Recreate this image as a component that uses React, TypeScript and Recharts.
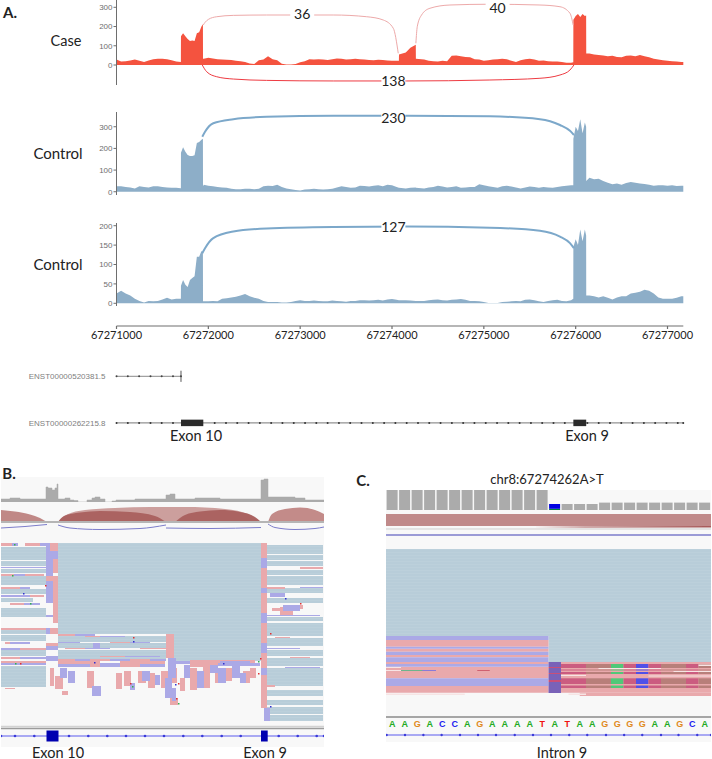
import {
	Area,
	Bar,
	BarChart,
	ComposedChart,
	Line,
	ReferenceArea,
	ReferenceLine,
	XAxis,
	YAxis,
} from "recharts";

// Panel A: genome positions are offsets from this coordinate
const chromStart = 67271000;
const chromEnd = 67277172;
const chromTicks = [67271000, 67272000, 67273000, 67274000, 67275000, 67276000, 67277000];

const binOffsets = [
	0, 50, 100, 150, 200, 250, 300, 350, 400, 450, 500, 550, 600, 650, 701,
	702, 725, 750, 775, 800, 825, 850, 875, 900, 925, 941, 942,
	950, 1000, 1050, 1100, 1150, 1200, 1250, 1300, 1350, 1400,
	1450, 1500, 1550, 1600, 1650, 1700, 1750, 1800, 1850, 1900,
	1950, 2000, 2050, 2100, 2150, 2200, 2250, 2300, 2350, 2400,
	2450, 2500, 2550, 2600, 2650, 2700, 2750, 2800, 2850, 2900,
	2950, 3000, 3050, 3075, 3076, 3150, 3200, 3259, 3260, 3350, 3400,
	3450, 3500, 3550, 3600, 3650, 3700, 3750, 3800, 3850, 3900,
	3950, 4000, 4050, 4100, 4150, 4200, 4250, 4300, 4350, 4400,
	4450, 4500, 4550, 4600, 4650, 4700, 4750, 4800, 4850, 4900,
	4950, 4974,
	4975, 5000, 5025, 5050, 5075, 5100, 5114, 5115,
	5150, 5200, 5250, 5300, 5350, 5400, 5450, 5500, 5550, 5600, 5650, 5700, 5750, 5800, 5850, 5900, 5950, 6000, 6050, 6100, 6150,
	6172,
];

const caseCoverage = [
	28, 18, 20, 24, 28, 22, 15, 24, 30, 32, 33, 30, 25, 18, 16,
	150, 165, 150, 135, 125, 128, 125, 165, 170, 200, 212, 32,
	32, 38, 34, 30, 28, 27, 26, 22, 20, 16,
	8, 5, 25, 28, 45, 30, 25, 6, 2, 2,
	5, 14, 20, 30, 28, 30, 28, 26, 30, 34,
	32, 28, 30, 32, 30, 28, 26, 25, 27, 26,
	24, 22, 22, 22, 55, 65, 90, 105, 32, 28, 22,
	20, 18, 22, 20, 48, 50, 45, 42, 40, 30,
	28, 22, 25, 28, 30, 32, 30, 22, 15, 25,
	30, 32, 28, 22, 24, 20, 18, 18, 15, 12,
	12, 14,
	235, 255, 265, 250, 265, 255, 258, 60,
	60, 55, 52, 50, 45, 48, 42, 40, 48, 50, 45, 52, 45, 40, 32, 28, 25, 22, 20, 18, 15,
	15,
];

const controlACoverage = [
	25, 25, 22, 20, 15, 25, 22, 20, 25, 25, 22, 20, 18, 18, 16,
	180, 205, 185, 170, 165, 165, 168, 225, 230, 240, 245, 25,
	32, 28, 25, 22, 20, 18, 14, 12, 12, 14,
	14, 12, 14, 25, 28, 26, 32, 22, 15, 12,
	8, 6, 10, 12, 14, 12, 10, 12, 14, 20,
	25, 22, 18, 20, 28, 26, 24, 28, 30, 25,
	32, 30, 22, 18, 18, 15, 18, 20, 18, 15, 20,
	22, 28, 24, 20, 22, 25, 18, 20, 22, 22,
	35, 30, 25, 22, 18, 25, 28, 24, 20, 15,
	20, 24, 22, 18, 22, 20, 18, 22, 25, 28,
	30, 30,
	245, 300, 280, 335, 270, 320, 300, 50,
	65, 58, 60, 50, 42, 35, 38, 32, 40, 45, 42, 38, 36, 32, 28, 30, 30, 28, 30, 26, 28,
	28,
];

const controlBCoverage = [
	25, 32, 25, 20, 12, 6, 2, 6, 5, 6, 10, 14, 10, 12, 12,
	45, 60, 48, 42, 60, 65, 70, 120, 120, 135, 130, 5,
	5, 5, 6, 5, 12, 13, 15, 17, 20, 24,
	18, 14, 12, 6, 3, 3, 3, 2, 2, 3,
	6, 8, 6, 6, 7, 6, 5, 5, 7, 6,
	5, 4, 6, 6, 8, 8, 7, 8, 9, 7,
	10, 11, 9, 8, 8, 8, 7, 6, 6, 6, 8,
	9, 10, 8, 7, 9, 10, 11, 9, 6, 6,
	5, 3, 1, 1, 1, 3, 4, 5, 6, 5,
	9, 10, 8, 5, 3, 6, 8, 9, 6, 5,
	8, 12,
	145, 165, 150, 190, 160, 190, 175, 20,
	20, 18, 15, 18, 14, 10, 15, 18, 18, 25, 27, 30, 35, 32, 25, 15, 12, 12, 12, 14, 18,
	18,
];

// junction arcs, [offset, reads-axis value]
const arc36 = [[945, 208], [965, 222], [1000, 237], [1091, 251], [1272, 258], [1635, 260], [2360, 260], [2724, 251], [2905, 234], [3014, 191], [3068, 61]];
const arc40 = [[3260, 113], [3275, 199], [3322, 260], [3413, 295], [3631, 312], [4066, 316], [4611, 312], [4829, 303], [4938, 269], [4973, 208]];
const arc138 = [[934, 0], [982, -35], [1091, -61], [1272, -73], [1635, -80], [2360, -83], [3160, -83], [4066, -78], [4611, -69], [4829, -52], [4938, -26], [4981, 0]];
const arc230 = [[934, 254], [964, 277], [1054, 316], [1272, 335], [1635, 346], [2360, 351], [3160, 351], [4066, 348], [4611, 335], [4829, 308], [4938, 281], [4981, 262]];
const arc127 = [[934, 129], [964, 142], [1054, 168], [1272, 185], [1635, 193], [2360, 197], [3160, 198], [4066, 195], [4611, 187], [4829, 172], [4938, 155], [4981, 142]];

const shortTranscript = [0, 123, 246, 370, 492, 615, 702];
const longTranscript = [
	0, 123, 246, 370, 492, 615, 1069, 1192, 1315, 1438, 1561, 1684, 1807, 1930, 2053, 2176, 2299, 2422, 2545, 2668, 2791,
	2914, 3037, 3160, 3283, 3406, 3529, 3652, 3775, 3898, 4021, 4144, 4267, 4390, 4513, 4636, 4759, 4882, 5128, 5251, 5374,
	5497, 5620, 5743, 5866, 5989, 6112, 6172,
];
const exon10Span = [702, 945];
const exon9Span = [4975, 5115];
const transcriptNames = { 1: "ENST00000262215.8", 2: "ENST00000520381.5" };

// Panel B, IGV overview: [x1, x2, row1, row2]
const overviewCoverage = [
	[1, 3], [10, 4], [20, 3], [30, 3], [40, 3], [46, 15], [48, 14], [52, 12], [55, 14], [57, 18], [58, 3], [65, 4], [70, 2], [74, 1.5], [78, 0], [87, 2], [92, 4], [95, 5], [100, 3], [105, 0],
	[112, 1], [116, 2], [125, 2], [135, 3], [150, 3], [160, 3], [166, 7], [170, 8], [175, 3], [185, 3], [195, 4], [205, 4], [220, 3], [235, 3], [250, 3], [261, 22], [264, 23], [268, 5], [280, 5], [288, 5], [295, 4], [305, 2], [324, 2],
];
const overviewArcs = [
	{ fill: "#BD8280", points: [[1, 12], [15, 10.5], [30, 7.5], [40, 4], [47, 0]] },
	{ fill: "#C99A98", points: [[58, 0], [66, 7], [85, 12], [115, 14], [150, 15], [185, 15], [225, 13], [250, 7], [261, 0]] },
	{ fill: "#A9605E", points: [[58, 0], [64, 6], [80, 9.5], [100, 11], [130, 10], [155, 6], [166, 0]] },
	{ fill: "#A9605E", points: [[175, 0], [185, 7], [200, 10.5], [220, 12], [240, 10], [255, 5], [261, 0]] },
	{ fill: "#C08583", points: [[268, 0], [272, 8], [285, 13], [300, 14.5], [315, 12], [324, 8]] },
];
const overviewBlueArcs = [
	[[1, -6], [25, -4.5], [47, -2.5]],
	[[58, -3], [70, -6], [100, -7.5], [140, -6.5], [166, -3]],
	[[166, -6], [210, -6.5], [261, -5.5]],
	[[268, -2], [275, -5.5], [295, -7.5], [315, -6.5], [324, -5]],
];
const overviewTeal = [
	[58, 261, 0, 91], [174, 261, 91, 118],
	[1, 46, 4, 17], [1, 46, 18, 23], [1, 46, 26, 30], [1, 46, 33, 42], [1, 46, 46, 51], [1, 33, 55, 59], [1, 46, 65, 74], [1, 46, 87, 91], [1, 46, 92, 98], [1, 46, 107, 113], [1, 46, 123, 144],
	[58, 166, 93, 99], [58, 166, 100, 105], [58, 166, 107, 113], [58, 166, 113, 116],
	[267, 323, 2, 11], [267, 323, 12, 17], [267, 323, 18, 23], [267, 323, 27, 32], [267, 323, 33, 42], [267, 323, 45, 50], [267, 323, 55, 60], [267, 323, 74, 78], [267, 323, 80, 93], [267, 323, 95, 103], [267, 323, 107, 113], [267, 323, 115, 123], [267, 323, 125, 143], [267, 323, 147, 153], [267, 323, 157, 162], [267, 323, 164, 171], [267, 323, 172, 178],
];
const overviewPink = [
	[1, 12, 0, 3], [25, 40, 0, 3], [1, 14, 31, 33], [25, 44, 31, 33], [1, 20, 44, 46], [30, 44, 52, 54], [10, 24, 60, 62], [1, 46, 85, 87], [5, 15, 99, 101], [20, 46, 105, 107], [1, 20, 114, 116], [25, 46, 118, 120],
	[50, 58, 0, 8], [53, 58, 16, 30], [46, 58, 33, 38], [53, 58, 38, 55], [53, 58, 55, 80], [50, 58, 85, 91], [46, 58, 100, 103],
	[58, 75, 91, 93], [85, 100, 93, 94], [110, 130, 99, 100], [140, 166, 105, 106], [65, 85, 105, 106], [100, 125, 113, 114],
	[166, 174, 91, 115], [261, 267, 0, 15], [261, 267, 25, 45], [261, 267, 50, 70], [261, 267, 80, 100], [261, 267, 110, 125], [261, 267, 132, 165],
	[267, 275, 142, 144], [280, 293, 64, 73], [267, 285, 44, 46], [300, 323, 24, 26], [275, 290, 94, 95], [290, 310, 114, 115],
	[1, 46, 118, 120], [58, 100, 118, 121], [120, 165, 118, 121], [190, 255, 117, 120],
	[58, 75, 116, 118], [90, 110, 116, 118], [130, 150, 116, 118], [90, 100, 121, 124], [120, 140, 121, 124], [190, 218, 120, 124],
	[50, 54, 125, 143], [55, 63, 133, 146], [62, 68, 148, 152], [87, 94, 128, 145], [116, 122, 130, 146], [124, 131, 128, 143], [138, 146, 128, 140], [148, 155, 130, 145], [161, 170, 128, 145], [172, 177, 125, 140], [180, 185, 135, 148], [190, 197, 125, 147], [203, 210, 122, 145], [215, 221, 125, 140], [225, 232, 125, 138], [243, 250, 128, 140], [250, 256, 125, 135],
	[170, 178, 155, 162], [272, 280, 65, 68], [296, 303, 62, 66], [5, 15, 145, 146],
];
const overviewLavender = [
	[12, 18, 0, 3], [40, 46, 0, 3], [1, 46, 24, 25], [14, 25, 31, 33], [20, 30, 44, 46], [1, 30, 52, 54], [24, 40, 60, 62], [10, 30, 99, 101], [1, 20, 105, 107], [20, 46, 114, 116],
	[46, 50, 0, 8], [46, 58, 8, 16], [46, 53, 16, 24], [46, 53, 24, 33], [46, 53, 38, 55], [46, 53, 55, 60], [46, 53, 72, 74], [46, 50, 85, 91], [46, 58, 103, 107], [46, 58, 113, 118],
	[75, 95, 91, 93], [100, 125, 93, 94], [58, 80, 99, 100], [130, 150, 99, 100], [85, 110, 105, 106], [125, 160, 113, 114], [93, 100, 100, 105],
	[261, 267, 15, 25], [261, 267, 45, 50], [261, 267, 70, 80], [261, 267, 100, 110], [261, 267, 125, 132], [264, 270, 165, 178],
	[300, 323, 44, 45], [267, 320, 72, 73], [283, 300, 62, 68], [270, 285, 50, 54], [267, 300, 105, 106], [285, 320, 124, 125],
	[75, 90, 116, 118], [110, 130, 116, 118], [150, 166, 116, 118], [218, 260, 120, 123],
	[58, 90, 121, 124], [100, 120, 120, 124], [140, 165, 121, 124], [174, 190, 118, 121], [220, 250, 118, 121], [1, 46, 120, 122],
	[60, 67, 125, 135], [68, 75, 128, 140], [92, 101, 143, 153], [130, 135, 140, 147], [142, 150, 128, 138], [155, 160, 132, 142], [165, 172, 135, 155], [172, 176, 145, 158], [184, 190, 122, 135], [197, 204, 128, 145], [210, 218, 122, 130], [218, 226, 125, 140], [232, 240, 118, 135], [240, 246, 130, 140], [168, 176, 115, 135],
];
const overviewMismatches = [
	{ fill: "#E03030", marks: [[45, 42], [178, 140], [176, 155], [130, 140], [260, 115], [270, 90], [300, 60], [133, 94], [20, 120], [258, 130]] },
	{ fill: "#30B050", marks: [[14, 1], [178, 160], [132, 143], [15, 120], [258, 118], [12, 32], [30, 60]] },
	{ fill: "#3030D0", marks: [[23, 50], [94, 119], [133, 98], [223, 120], [270, 163], [175, 141], [285, 55]] },
];
const overviewGeneMarkers = [1, 15, 34.3, 69, 88.3, 107.3, 126, 145, 164, 183.3, 202.3, 221.7, 240.7, 278.7, 297.7, 316.7, 324];

// Panel C, IGV close-up around the variant
const closeUpBases = ["A", "A", "G", "A", "C", "C", "A", "G", "A", "A", "A", "A", "T", "A", "T", "A", "A", "G", "G", "G", "G", "A", "A", "G", "C", "A"];
const closeUpCoverage = [100, 100, 100, 100, 100, 100, 100, 100, 100, 100, 100, 100, 100, 0, 30, 30, 30, 37, 37, 37, 37, 37, 37, 37, 37, 37];
const closeUpAltT = [0, 0, 0, 0, 0, 0, 0, 0, 0, 0, 0, 0, 0, 24, 0, 0, 0, 0, 0, 0, 0, 0, 0, 0, 0, 0];
const closeUpAltG = [0, 0, 0, 0, 0, 0, 0, 0, 0, 0, 0, 0, 0, 6, 0, 0, 0, 0, 0, 0, 0, 0, 0, 0, 0, 0];
const closeUpWedge = [[11.8, 10, 10.1], [16, 9.6, 10.5], [26, 9.5, 11]];
const closeUpTeal = [[0, 26, 0, 87], [13, 26, 87, 113]];
const closeUpPink = [[0, 13, 91, 97.7], [0, 13, 99.7, 102.7], [0, 13, 106, 108.3], [0, 13, 113, 115], [0, 13, 117.7, 129.3], [0, 13, 137, 143.7], [14, 26, 113, 143.7], [15.5, 26, 143.7, 147]];
const closeUpLavender = [[0, 13, 87, 91], [0, 13, 97.7, 99.7], [0, 13, 102.7, 106], [0, 13, 108.3, 113], [0, 13, 115, 117.7], [0, 13, 129.3, 137]];
const closeUpPale = [[0, 6.3, 144.5, 146], [14.6, 16, 144.5, 146], [0, 1.2, 118, 119], [0, 1.2, 121, 122], [25, 26, 115.5, 117], [17, 22, 119, 120], [23, 26, 122, 123], [14, 16, 126, 127], [21, 26, 126.5, 127.5]];
const closeUpRows = [[115, 119], [120.5, 121.5], [123, 125], [129.3, 135], [136.5, 139]];
const closeUpColumns = [
	{ fill: "#CB5C80", span: [14, 16] },
	{ fill: "#B87F7A", span: [16, 18] },
	{ fill: "#50C878", span: [18, 19] },
	{ fill: "#CB5C80", span: [19, 20] },
	{ fill: "#5050E8", span: [20, 21] },
	{ fill: "#CB5C80", span: [21, 22] },
	{ fill: "#B87F7A", span: [22, 24] },
	{ fill: "#CB5C80", span: [24, 25] },
	{ fill: "#B87F7A", span: [25, 26] },
];
const closeUpVariant = [[13, 14, 113, 118], [13, 14, 119, 124], [13, 14, 125, 131], [13, 14, 133, 144]];
const closeUpVariantStripes = [[13, 14, 118, 119], [13, 14, 124, 125], [13, 14, 131, 133]];
const closeUpSmallMarks = [
	{ fill: "#6EB48C", mark: [1.2, 3, 121, 122] },
	{ fill: "#8A7AD8", mark: [2.9, 4, 121, 122] },
	{ fill: "#D06070", mark: [7.3, 8.3, 121, 122] },
];
const closeUpGeneMarkers = [0.05, 1.52, 2.99, 4.45, 5.92, 7.36, 8.8, 10.3, 11.76, 13.2, 14.66, 16.1, 17.6, 19.05, 20.5, 22, 23.4, 24.9, 26];

const caseRed = "#F4533F";
const controlBlue = "#8DAEC8";
const arcBlue = "#7CA8CA";
const axisGrey = "#6E6E6E";
const readTeal = "url(#readStripes)";
const readPink = "#E9A9AC";
const readLavender = "#ABA9E6";
const bodyFont = "Lato, sans-serif";
const sansFont = "'Liberation Sans', sans-serif";
const baseColors = { A: "#22AA22", C: "#2020F0", G: "#E08A20", T: "#F01010" };
const labelPad = 16;

const toBinRows = (values: number[]) => binOffsets.map((offset, i) => ({ pos: chromStart + offset, coverage: values[i] }));
const toArcRows = (points: number[][]) => points.map(([offset, value]) => ({ pos: chromStart + offset, value }));
const toTrackRows = (offsets: number[], row: number) => offsets.map((offset) => ({ pos: chromStart + offset, row }));

const JunctionLabel = ({ cx, cy, text }: { cx?: number; cy?: number; text: string }) => (
	<g>
		<rect x={(cx ?? 0) - 12} y={(cy ?? 0) - 7} width={24} height={14} fill="#fff" />
		<text x={cx} y={(cy ?? 0) + 5} textAnchor="middle" fontFamily={bodyFont} fontSize={14} fill="#222">
			{text}
		</text>
	</g>
);

const Caption = ({ x, y, size = 14.5, bold, text }: { x: number; y: number; size?: number; bold?: boolean; text: string }) => (
	<div
		style={{
			position: "absolute",
			left: x,
			top: y,
			transform: "translate(-50%, -50%)",
			fontFamily: bodyFont,
			fontSize: size,
			lineHeight: 1,
			fontWeight: bold ? 700 : 400,
			color: "#222",
			whiteSpace: "nowrap",
		}}
	>
		{text}
	</div>
);

const at = (left: number, top: number): React.CSSProperties => ({ position: "absolute", left, top });

interface CoverageTrackProps {
	top: number;
	height: number;
	domain: number[];
	ticks: number[];
	values: number[];
	color: string;
	arcs: { points: number[][]; stroke: string; width: number }[];
	labels: { offset: number; value: number; text: string }[];
}

const CoverageTrack = ({ top, height, domain, ticks, values, color, arcs, labels }: CoverageTrackProps) => (
	<div style={at(0, top - labelPad)}>
		<ComposedChart width={712} height={height + labelPad * 2} margin={{ top: labelPad, right: 28.7, bottom: labelPad, left: 0 }}>
			<XAxis dataKey="pos" type="number" domain={[chromStart, chromEnd]} hide />
			<YAxis
				type="number"
				width={116.5}
				domain={domain}
				ticks={ticks}
				interval={0}
				tick={{ fontSize: 8, fontFamily: sansFont, fill: axisGrey }}
				tickSize={3}
				tickMargin={1}
				stroke={axisGrey}
				tickLine={{ stroke: axisGrey }}
			/>
			<Area data={toBinRows(values)} dataKey="coverage" type="linear" stroke="none" fill={color} fillOpacity={1} baseValue={0} isAnimationActive={false} />
			{arcs.map((arc, i) => (
				<Line key={i} data={toArcRows(arc.points)} dataKey="value" type="monotone" stroke={arc.stroke} strokeWidth={arc.width} dot={false} isAnimationActive={false} />
			))}
			{labels.map((label) => (
				<Line
					key={label.text}
					data={[{ pos: chromStart + label.offset, value: label.value }]}
					dataKey="value"
					stroke="none"
					isAnimationActive={false}
					dot={(props: any) => <JunctionLabel key={label.text} cx={props.cx} cy={props.cy} text={label.text} />}
				/>
			))}
		</ComposedChart>
	</div>
);

const readBlocks = (blocks: number[][], fill: string, prefix: string) =>
	blocks.map(([x1, x2, y1, y2], i) => (
		<ReferenceArea key={`${prefix}-${i}`} x1={x1} x2={x2} y1={y1} y2={y2} fill={fill} fillOpacity={1} stroke="none" ifOverflow="visible" />
	));

const App = () => (
	<div style={{ position: "absolute", left: 0, top: 0, width: 712, height: 759, background: "#fff", overflow: "hidden" }}>
		<svg width={0} height={0} style={{ position: "absolute" }}>
			<defs>
				<pattern id="readStripes" width={4} height={3} patternUnits="userSpaceOnUse">
					<rect width={4} height={3} fill="#B8CDD9" />
					<rect width={4} height={1} fill="#BCD0DB" />
				</pattern>
			</defs>
		</svg>

		<Caption x={10} y={12} bold size={15} text="A." />
		<Caption x={66} y={41} text="Case" />
		<Caption x={58} y={153} size={15} text="Control" />
		<Caption x={58} y={264} size={15} text="Control" />

		<CoverageTrack
			top={0}
			height={85}
			domain={[-104, 338]}
			ticks={[0, 100, 200, 300]}
			values={caseCoverage}
			color={caseRed}
			arcs={[
				{ points: arc36, stroke: "#EDA9A9", width: 1 },
				{ points: arc40, stroke: "#EDA9A9", width: 1 },
				{ points: arc138, stroke: "#EE3B42", width: 1 },
			]}
			labels={[
				{ offset: 2022, value: 267, text: "36" },
				{ offset: 4150, value: 294, text: "40" },
				{ offset: 3015, value: -83, text: "138" },
			]}
		/>
		<CoverageTrack
			top={112}
			height={83}
			domain={[-15, 368]}
			ticks={[0, 100, 200, 300]}
			values={controlACoverage}
			color={controlBlue}
			arcs={[{ points: arc230, stroke: arcBlue, width: 2 }]}
			labels={[{ offset: 3015, value: 340, text: "230" }]}
		/>
		<CoverageTrack
			top={223}
			height={83}
			domain={[-7, 207]}
			ticks={[0, 50, 100, 150, 200]}
			values={controlBCoverage}
			color={controlBlue}
			arcs={[{ points: arc127, stroke: arcBlue, width: 2 }]}
			labels={[{ offset: 3015, value: 197, text: "127" }]}
		/>

		<div style={at(0, 306)}>
			<ComposedChart width={712} height={45} margin={{ top: 0, right: 28.7, bottom: 0, left: 0 }}>
				<XAxis
					dataKey="pos"
					type="number"
					domain={[chromStart, chromEnd]}
					ticks={chromTicks}
					interval={0}
					allowDataOverflow
					height={25}
					tickSize={3}
					tickMargin={2}
					stroke={axisGrey}
					strokeWidth={1.2}
					tick={{ fontSize: 11, fontFamily: bodyFont, fill: "#222" }}
				/>
				<YAxis width={116.5} domain={[0, 1]} axisLine={false} tick={false} tickLine={false} />
			</ComposedChart>
		</div>

		<div style={at(0, 353.4)}>
			<ComposedChart width={712} height={93.2} margin={{ top: 0, right: 28.7, bottom: 0, left: 0 }}>
				<XAxis dataKey="pos" type="number" domain={[chromStart, chromEnd]} hide />
				<YAxis
					type="number"
					width={116.5}
					domain={[0.5, 2.5]}
					ticks={[1, 2]}
					axisLine={false}
					tickLine={false}
					tickMargin={5}
					tickFormatter={(row: number) => transcriptNames[row as 1 | 2]}
					tick={{ fontSize: 8, fontFamily: sansFont, fill: "#808080" }}
				/>
				<Line data={toTrackRows(shortTranscript, 2)} dataKey="row" stroke="#8a8a8a" strokeWidth={1} dot={{ r: 1, fill: "#444", stroke: "none" }} isAnimationActive={false} />
				<Line data={[{ pos: chromStart + 702, row: 1.88 }, { pos: chromStart + 702, row: 2.12 }]} dataKey="row" stroke="#555" strokeWidth={1} dot={false} isAnimationActive={false} />
				<Line data={toTrackRows(longTranscript, 1)} dataKey="row" stroke="#777" strokeWidth={1} dot={{ r: 1, fill: "#333", stroke: "none" }} isAnimationActive={false} />
				<Line data={toTrackRows(exon10Span, 1)} dataKey="row" stroke="#2B2B2B" strokeWidth={6.5} dot={false} isAnimationActive={false} />
				<Line data={toTrackRows(exon9Span, 1)} dataKey="row" stroke="#2B2B2B" strokeWidth={6.5} dot={false} isAnimationActive={false} />
			</ComposedChart>
		</div>
		<Caption x={196} y={436} text="Exon 10" />
		<Caption x={587} y={436} text="Exon 9" />

		{/* Panel B */}
		<div style={{ ...at(1, 477), width: 323, height: 270, background: "#F8F8F8" }} />
		<Caption x={9} y={473} bold size={15} text="B." />
		<div style={at(1, 478)}>
			<ComposedChart width={323} height={24} margin={{ top: 0, right: 0, bottom: 0, left: 0 }}>
				<XAxis dataKey="x" type="number" domain={[1, 324]} hide />
				<YAxis hide domain={[0, 24]} />
				<Area data={overviewCoverage.map(([x, depth]) => ({ x, depth }))} dataKey="depth" type="stepAfter" stroke="#A8A8A8" strokeWidth={0.5} fill="#ABABAB" fillOpacity={1} baseValue={0} isAnimationActive={false} />
			</ComposedChart>
		</div>
		<div style={at(1, 505)}>
			<ComposedChart width={323} height={26} margin={{ top: 0, right: 0, bottom: 0, left: 0 }}>
				<XAxis dataKey="x" type="number" domain={[1, 324]} hide />
				<YAxis hide domain={[-9, 17]} />
				{overviewArcs.map((arc, i) => (
					<Area key={i} data={arc.points.map(([x, h]) => ({ x, h }))} dataKey="h" type="monotone" stroke="none" fill={arc.fill} fillOpacity={0.95} baseValue={0} isAnimationActive={false} />
				))}
				<ReferenceLine y={0} stroke="#B5B5B5" strokeWidth={2} />
				{overviewBlueArcs.map((arc, i) => (
					<Line key={i} data={arc.map(([x, h]) => ({ x, h }))} dataKey="h" type="monotone" stroke="#7C7DCB" strokeWidth={1} dot={false} isAnimationActive={false} />
				))}
			</ComposedChart>
		</div>
		<div style={at(1, 543)}>
			<ComposedChart width={323} height={183} margin={{ top: 0, right: 0, bottom: 0, left: 0 }} data={[{ x: 1, row: 0 }, { x: 324, row: 183 }]}>
				<XAxis dataKey="x" type="number" domain={[1, 324]} hide />
				<YAxis type="number" domain={[0, 183]} reversed hide />
				<Line dataKey="row" stroke="none" dot={false} isAnimationActive={false} />
				{readBlocks(overviewTeal, readTeal, "teal")}
				{readBlocks(overviewPink, readPink, "pink")}
				{readBlocks(overviewLavender, readLavender, "lav")}
				{overviewMismatches.map((group) =>
					readBlocks(group.marks.map(([x, row]) => [x, x + 1.5, row, row + 1.5]), group.fill, group.fill)
				)}
			</ComposedChart>
		</div>
		<div style={at(1, 725)}>
			<ComposedChart width={323} height={22} margin={{ top: 0, right: 0, bottom: 0, left: 0 }}>
				<XAxis dataKey="x" type="number" domain={[1, 324]} hide />
				<YAxis hide domain={[0, 22]} />
				<ReferenceLine y={20.5} stroke="#D2D2D2" strokeWidth={1.5} />
				<ReferenceLine y={18.5} stroke="#9C9C9C" strokeWidth={1.5} />
				<Line data={overviewGeneMarkers.map((x) => ({ x, row: 11 }))} dataKey="row" stroke="#5A5AEE" strokeWidth={1} dot={{ r: 1.3, fill: "#3A3AD8", stroke: "none" }} isAnimationActive={false} />
				<Line data={[{ x: 46.5, row: 11 }, { x: 58.5, row: 11 }]} dataKey="row" stroke="#0000B0" strokeWidth={11} dot={false} isAnimationActive={false} />
				<Line data={[{ x: 261, row: 11 }, { x: 267.7, row: 11 }]} dataKey="row" stroke="#0000B0" strokeWidth={11} dot={false} isAnimationActive={false} />
			</ComposedChart>
		</div>
		<Caption x={58} y={752.5} text="Exon 10" />
		<Caption x={265} y={752.5} text="Exon 9" />

		{/* Panel C */}
		<Caption x={363} y={480} bold size={15} text="C." />
		<Caption x={547} y={479} size={13} text="chr8:67274262A>T" />
		<div style={{ ...at(386, 490), width: 325, height: 252, background: "#F8F8F8" }} />
		<div style={at(386, 490)}>
			<BarChart
				width={325}
				height={20}
				margin={{ top: 0, right: 0, bottom: 0, left: 0 }}
				barCategoryGap={0.6}
				data={closeUpBases.map((base, i) => ({ i, grey: closeUpCoverage[i], altT: closeUpAltT[i], altG: closeUpAltG[i] }))}
			>
				<XAxis dataKey="i" hide />
				<YAxis hide domain={[0, 100]} />
				<Bar dataKey="altG" stackId="depth" fill="#008040" isAnimationActive={false} />
				<Bar dataKey="altT" stackId="depth" fill="#0000E0" isAnimationActive={false} />
				<Bar dataKey="grey" stackId="depth" fill="#ABABAB" isAnimationActive={false} />
			</BarChart>
		</div>
		<div style={at(386, 513)}>
			<ComposedChart width={325} height={24} margin={{ top: 0, right: 0, bottom: 0, left: 0 }}>
				<XAxis dataKey="b" type="number" domain={[0, 26]} hide />
				<YAxis hide domain={[0, 24]} />
				<Area data={[{ b: 0, band: [11, 23] }, { b: 26, band: [11, 23] }]} dataKey="band" stroke="none" fill="#C08A8A" fillOpacity={1} isAnimationActive={false} />
				<Area data={closeUpWedge.map(([b, lo, hi]) => ({ b, band: [lo, hi] }))} dataKey="band" stroke="none" fill="#A85C5C" fillOpacity={1} isAnimationActive={false} />
				<ReferenceLine y={8} stroke="#CFCFCF" strokeWidth={1} />
				<ReferenceLine y={2} stroke="#7C7DCB" strokeWidth={1.5} />
			</ComposedChart>
		</div>
		<div style={at(386, 549)}>
			<ComposedChart width={325} height={150} margin={{ top: 0, right: 0, bottom: 0, left: 0 }} data={[{ b: 0, row: 0 }, { b: 26, row: 150 }]}>
				<XAxis dataKey="b" type="number" domain={[0, 26]} hide />
				<YAxis type="number" domain={[0, 150]} reversed hide />
				<Line dataKey="row" stroke="none" dot={false} isAnimationActive={false} />
				{readBlocks(closeUpTeal, readTeal, "c-teal")}
				{readBlocks(closeUpPink, readPink, "c-pink")}
				{readBlocks(closeUpLavender, readLavender, "c-lav")}
				{closeUpColumns.map((column) =>
					readBlocks(closeUpRows.map(([r1, r2]) => [column.span[0], column.span[1], r1, r2]), column.fill, `col-${column.span[0]}`)
				)}
				{readBlocks(closeUpVariant, "#7A62B8", "var")}
				{readBlocks(closeUpVariantStripes, "#C94F78", "var-s")}
				{readBlocks(closeUpPale, "#F7E4E4", "pale")}
				{closeUpSmallMarks.map((m, i) => readBlocks([m.mark], m.fill, `m-${i}`))}
			</ComposedChart>
		</div>
		<div style={at(386, 705)}>
			<ComposedChart
				width={325}
				height={26}
				margin={{ top: 0, right: 0, bottom: 0, left: 0 }}
				data={closeUpBases.map((base, i) => ({ i, base }))}
			>
				<XAxis
					dataKey="i"
					type="category"
					scale="band"
					height={14}
					interval={0}
					tickLine={false}
					stroke="#A6A6A6"
					strokeWidth={2}
					tick={(props: any) => (
						<text
							x={props.x}
							y={props.y + 2}
							textAnchor="middle"
							fontFamily={sansFont}
							fontWeight={700}
							fontSize={9}
							fill={baseColors[closeUpBases[props.payload.value] as "A" | "C" | "G" | "T"]}
						>
							{closeUpBases[props.payload.value]}
						</text>
					)}
				/>
				<YAxis hide domain={[0, 1]} />
			</ComposedChart>
		</div>
		<div style={at(386, 730.5)}>
			<ComposedChart width={325} height={8} margin={{ top: 0, right: 0, bottom: 0, left: 0 }}>
				<XAxis dataKey="b" type="number" domain={[0, 26]} hide />
				<YAxis hide domain={[0, 8]} />
				<Line data={closeUpGeneMarkers.map((b) => ({ b, row: 4 }))} dataKey="row" stroke="#5A5AEE" strokeWidth={1} dot={{ r: 1.2, fill: "#3A3AD8", stroke: "none" }} isAnimationActive={false} />
			</ComposedChart>
		</div>
		<Caption x={562} y={753} text="Intron 9" />
	</div>
);

export default App;
